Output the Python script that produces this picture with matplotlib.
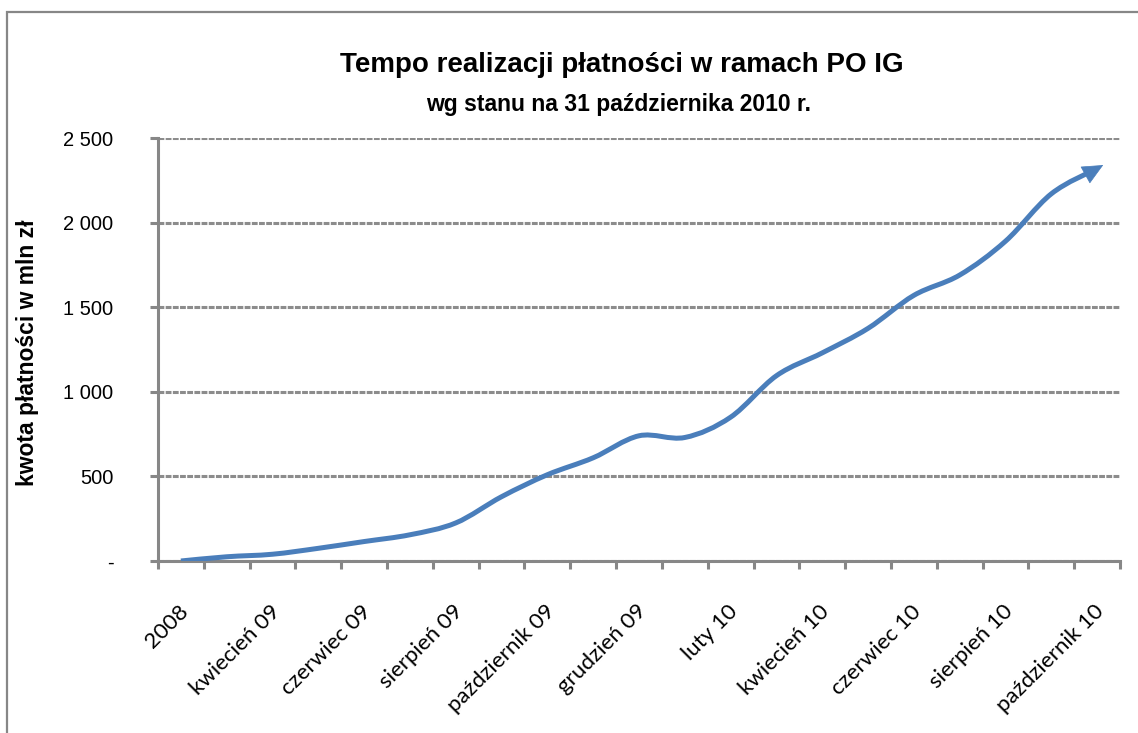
"""Tempo realizacji płatności w ramach PO IG - recreated chart."""
import numpy as np
import matplotlib.pyplot as plt
import matplotlib.transforms as mtransforms
from matplotlib.path import Path
from matplotlib.patches import FancyArrowPatch, PathPatch, Rectangle, ArrowStyle

months = ['2008', 'marzec 09', 'kwiecień 09', 'maj 09', 'czerwiec 09',
          'lipiec 09', 'sierpień 09', 'wrzesień 09', 'październik 09',
          'listopad 09', 'grudzień 09', 'styczeń 10', 'luty 10', 'marzec 10',
          'kwiecień 10', 'maj 10', 'czerwiec 10', 'lipiec 10', 'sierpień 10',
          'wrzesień 10', 'październik 10']
payments = [0, 25, 40, 75, 115, 155, 225, 380, 510, 610, 740, 730, 850,
            1095, 1230, 1375, 1570, 1690, 1890, 2170, 2320]
y_ticks = [0, 500, 1000, 1500, 2000, 2500]
y_labels = ['-', '500', '1 000', '1 500', '2 000', '2 500']

W, H = 1138, 733
grey = '#878787'
blue = '#4a7ebb'

fig = plt.figure(figsize=(W / 100, H / 100), dpi=100)
ax = fig.add_axes([158 / W, 1 - 561 / H, (1120 - 158) / W, (561 - 138) / H])

# outer chart frame (only left/top visible in the picture)
fig.patches.append(Rectangle((7 / W, -0.1), 1.2, 1 - 12 / H + 0.1,
                             transform=fig.transFigure, fill=False,
                             edgecolor=grey, linewidth=1.6))

ax.set_xlim(-0.5, len(months) - 0.5)
ax.set_ylim(0, 2500)

# smoothed line (Catmull-Rom style bezier, like Excel "smoothed line")
pts = list(zip(range(len(payments)), payments))
verts = [pts[0]]
codes = [Path.MOVETO]
for i in range(len(pts) - 1):
    p0 = pts[max(i - 1, 0)]
    p1 = pts[i]
    p2 = pts[i + 1]
    p3 = pts[min(i + 2, len(pts) - 1)]
    c1 = (p1[0] + (p2[0] - p0[0]) / 6, p1[1] + (p2[1] - p0[1]) / 6)
    c2 = (p2[0] - (p3[0] - p1[0]) / 6, p2[1] - (p3[1] - p1[1]) / 6)
    verts += [c1, c2, p2]
    codes += [Path.CURVE4] * 3
ax.add_patch(PathPatch(Path(verts, codes), fill=False, edgecolor=blue,
                       linewidth=3.6, capstyle='butt', zorder=3))

# arrow head along the last tangent, in pixel coords
d_end = ax.transData.transform(verts[-1])
d_ctl = ax.transData.transform(verts[-2])
u = (d_end - d_ctl) / np.hypot(*(d_end - d_ctl))
head = FancyArrowPatch(tuple(d_end - 12 * u), tuple(d_end + 7 * u),
                       arrowstyle=ArrowStyle('-|>', head_length=14, head_width=6.5),
                       mutation_scale=1, color=blue, linewidth=0.5,
                       shrinkA=0, shrinkB=0,
                       transform=mtransforms.IdentityTransform(), zorder=4)
ax.add_patch(head)

# grid and axes styling
ax.set_yticks(y_ticks)
ax.set_yticklabels(y_labels, fontsize=14.5, family='Liberation Sans')
ax.yaxis.grid(True, color='#8c8c8c', linewidth=2.2, linestyle=(0, (1.9, 0.45)))
ax.set_axisbelow(True)
for side in ['top', 'right']:
    ax.spines[side].set_visible(False)
for side in ['left', 'bottom']:
    ax.spines[side].set_color(grey)
    ax.spines[side].set_linewidth(2.2)

ax.set_xticks([k - 0.5 for k in range(len(months) + 1)])
ax.set_xticklabels([])
ax.set_xticks(range(0, len(months), 2), minor=True)
ax.set_xticklabels(months[::2], minor=True, rotation=45, ha='right',
                   va='center', rotation_mode='anchor', fontsize=16,
                   family='Lato')
ax.tick_params(axis='both', which='major', direction='out', length=6,
               width=2.2, color=grey)
ax.tick_params(axis='y', pad=26)
ax.tick_params(axis='x', which='minor', length=0, pad=34)
offset = mtransforms.ScaledTranslation(4 / 100, 0, fig.dpi_scale_trans)
for lab in ax.get_xticklabels(minor=True):
    lab.set_transform(lab.get_transform() + offset)

fig.text(28 / W, 1 - 353 / H, 'kwota płatności w mln zł', rotation=90,
         ha='center', va='center', fontsize=16.5, fontweight='bold',
         family='Liberation Sans')
fig.text(622 / W, 1 - 65 / H, 'Tempo realizacji płatności w ramach PO IG',
         ha='center', va='center', fontsize=20, fontweight='bold',
         family='Liberation Sans')
fig.text(619 / W, 1 - 105 / H, 'wg stanu na 31 października 2010 r.',
         ha='center', va='center', fontsize=16.5, fontweight='bold',
         family='Liberation Sans')

fig.savefig('out.png', dpi=100)
